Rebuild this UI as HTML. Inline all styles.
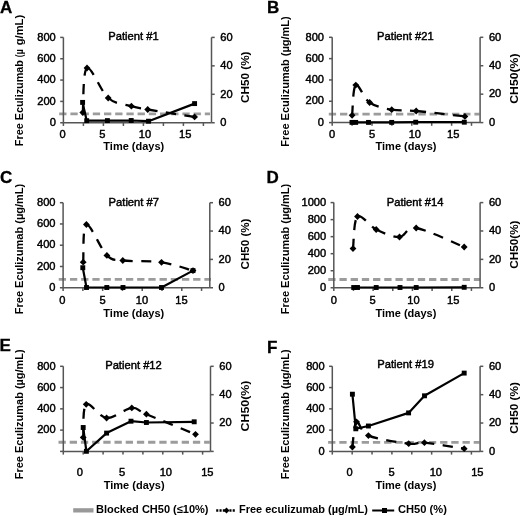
<!DOCTYPE html>
<html><head><meta charset="utf-8"><style>
html,body{margin:0;padding:0;background:#fff;}
svg{display:block;font-family:"Liberation Sans", sans-serif;will-change:transform;}
</style></head><body>
<svg width="520" height="516" viewBox="0 0 520 516">
<rect width="520" height="516" fill="#fff"/>
<text x="0" y="12.5" text-anchor="start" font-size="17" font-weight="bold" fill="#000" stroke="#000" stroke-width="0.3">A</text>
<text x="108.3" y="39.5" text-anchor="start" font-size="11.2" font-weight="normal" fill="#000" stroke="#000" stroke-width="0.45">Patient #1</text>
<text transform="translate(23.4,146.2) rotate(-90)" text-anchor="start" font-size="11" font-weight="bold" fill="#000" textLength="86.2" lengthAdjust="spacingAndGlyphs">Free Eculizumab</text>
<text transform="translate(23.4,57.2) rotate(-90)" text-anchor="start" font-size="11" font-weight="bold" fill="#000" textLength="7.8" lengthAdjust="spacingAndGlyphs">(µ</text>
<text transform="translate(23.4,45.2) rotate(-90)" text-anchor="start" font-size="11" font-weight="bold" fill="#000" textLength="30.3" lengthAdjust="spacingAndGlyphs">g/mL)</text>
<text transform="translate(248.8,77.25) rotate(-90)" text-anchor="middle" font-size="11" font-weight="bold" fill="#000" textLength="51.5" lengthAdjust="spacingAndGlyphs">CH50 (%)</text>
<text x="133.8" y="150.3" text-anchor="middle" font-size="11" font-weight="bold" fill="#000">Time (days)</text>
<path d="M59.2,113.8 H210" stroke="#9c9c9c" stroke-width="2.8" stroke-dasharray="7.3,3.9" fill="none"/>
<g stroke="#555555" stroke-width="1.5" fill="none">
<path d="M63.4,37.4 V122.75"/>
<path d="M211.5,37.4 V122.75"/>
<path d="M63.4,122.75 H211.5"/>
<path d="M60.2,37.4 H63.4"/>
<path d="M60.2,58.74 H63.4"/>
<path d="M60.2,80.07 H63.4"/>
<path d="M60.2,101.41 H63.4"/>
<path d="M60.2,122.75 H63.4"/>
<path d="M211.5,37.4 H214.7"/>
<path d="M211.5,65.85 H214.7"/>
<path d="M211.5,94.3 H214.7"/>
<path d="M211.5,122.75 H214.7"/>
<path d="M63.4,122.75 V125.95"/>
<path d="M83.4,122.75 V125.95"/>
<path d="M103.4,122.75 V125.95"/>
<path d="M123.4,122.75 V125.95"/>
<path d="M143.4,122.75 V125.95"/>
<path d="M163.4,122.75 V125.95"/>
<path d="M183.4,122.75 V125.95"/>
<path d="M203.4,122.75 V125.95"/>
</g>
<text x="55.8" y="40.6" text-anchor="end" font-size="11.1" font-weight="normal" fill="#000" stroke="#000" stroke-width="0.45">800</text>
<text x="55.8" y="61.94" text-anchor="end" font-size="11.1" font-weight="normal" fill="#000" stroke="#000" stroke-width="0.45">600</text>
<text x="55.8" y="83.27" text-anchor="end" font-size="11.1" font-weight="normal" fill="#000" stroke="#000" stroke-width="0.45">400</text>
<text x="55.8" y="104.61" text-anchor="end" font-size="11.1" font-weight="normal" fill="#000" stroke="#000" stroke-width="0.45">200</text>
<text x="55.8" y="125.95" text-anchor="end" font-size="11.1" font-weight="normal" fill="#000" stroke="#000" stroke-width="0.45">0</text>
<text x="220.3" y="40.6" text-anchor="start" font-size="11.1" font-weight="normal" fill="#000" stroke="#000" stroke-width="0.45">60</text>
<text x="220.3" y="69.05" text-anchor="start" font-size="11.1" font-weight="normal" fill="#000" stroke="#000" stroke-width="0.45">40</text>
<text x="220.3" y="97.5" text-anchor="start" font-size="11.1" font-weight="normal" fill="#000" stroke="#000" stroke-width="0.45">20</text>
<text x="220.3" y="125.95" text-anchor="start" font-size="11.1" font-weight="normal" fill="#000" stroke="#000" stroke-width="0.45">0</text>
<text x="62.6" y="137.8" text-anchor="middle" font-size="11.1" font-weight="normal" fill="#000" stroke="#000" stroke-width="0.45">0</text>
<text x="102.4" y="137.8" text-anchor="middle" font-size="11.1" font-weight="normal" fill="#000" stroke="#000" stroke-width="0.45">5</text>
<text x="145" y="137.8" text-anchor="middle" font-size="11.1" font-weight="normal" fill="#000" stroke="#000" stroke-width="0.45">10</text>
<text x="185.2" y="137.8" text-anchor="middle" font-size="11.1" font-weight="normal" fill="#000" stroke="#000" stroke-width="0.45">15</text>
<path d="M82.8,112.6 C83.5,105.17 82.77,70.43 87,68" stroke="#000" stroke-width="2.3" stroke-dasharray="10,8.5" fill="none"/>
<path d="M87,68 C91.23,65.57 100.8,91.63 108.2,98" stroke="#000" stroke-width="2.3" stroke-dasharray="10,8.5" fill="none"/>
<path d="M108.2,98 C115.6,104.37 124.82,104.28 131.4,106.2" stroke="#000" stroke-width="2.3" stroke-dasharray="10,8.5" fill="none"/>
<path d="M131.4,106.2 C137.98,108.12 137.17,107.72 147.7,109.5" stroke="#000" stroke-width="2.3" stroke-dasharray="10,8.5" fill="none"/>
<path d="M147.7,109.5 C158.23,111.28 186.78,115.67 194.6,116.9" stroke="#000" stroke-width="2.3" stroke-dasharray="10,8.5" fill="none"/>
<path d="M82.6,102.4 L86.7,120.7 L107.4,120.6 L131.2,120.5 L148.5,121.2 L194.6,103.6" stroke="#000" stroke-width="2.2" fill="none" stroke-linejoin="round"/>
<path d="M82.8,109.2 L86.2,112.6 L82.8,116 L79.4,112.6 Z" fill="#000"/>
<path d="M87,64.6 L90.4,68 L87,71.4 L83.6,68 Z" fill="#000"/>
<path d="M108.2,94.6 L111.6,98 L108.2,101.4 L104.8,98 Z" fill="#000"/>
<path d="M131.4,102.8 L134.8,106.2 L131.4,109.6 L128,106.2 Z" fill="#000"/>
<path d="M147.7,106.1 L151.1,109.5 L147.7,112.9 L144.3,109.5 Z" fill="#000"/>
<path d="M194.6,113.5 L198,116.9 L194.6,120.3 L191.2,116.9 Z" fill="#000"/>
<rect x="80.15" y="99.95" width="4.9" height="4.9" fill="#000"/>
<rect x="84.25" y="118.25" width="4.9" height="4.9" fill="#000"/>
<rect x="104.95" y="118.15" width="4.9" height="4.9" fill="#000"/>
<rect x="128.75" y="118.05" width="4.9" height="4.9" fill="#000"/>
<rect x="146.05" y="118.75" width="4.9" height="4.9" fill="#000"/>
<rect x="192.15" y="101.15" width="4.9" height="4.9" fill="#000"/>
<text x="266.9" y="12.5" text-anchor="start" font-size="17" font-weight="bold" fill="#000" stroke="#000" stroke-width="0.3">B</text>
<text x="377.1" y="40" text-anchor="start" font-size="11.2" font-weight="normal" fill="#000" stroke="#000" stroke-width="0.45">Patient #21</text>
<text transform="translate(288.8,81.5) rotate(-90)" text-anchor="middle" font-size="11" font-weight="bold" fill="#000" textLength="130.5" lengthAdjust="spacingAndGlyphs">Free Eculizumab (µg/mL)</text>
<text transform="translate(517.6,78.6) rotate(-90)" text-anchor="middle" font-size="11" font-weight="bold" fill="#000" textLength="50.2" lengthAdjust="spacingAndGlyphs">CH50(%)</text>
<text x="406" y="150" text-anchor="middle" font-size="11" font-weight="bold" fill="#000">Time (days)</text>
<path d="M328.8,114.2 H479.5" stroke="#9c9c9c" stroke-width="2.8" stroke-dasharray="7.3,3.9" fill="none"/>
<g stroke="#555555" stroke-width="1.5" fill="none">
<path d="M332.2,37.3 V122.6"/>
<path d="M480.1,37.3 V122.6"/>
<path d="M332.2,122.6 H480.1"/>
<path d="M329,37.3 H332.2"/>
<path d="M329,58.62 H332.2"/>
<path d="M329,79.95 H332.2"/>
<path d="M329,101.27 H332.2"/>
<path d="M329,122.6 H332.2"/>
<path d="M480.1,37.3 H483.3"/>
<path d="M480.1,65.73 H483.3"/>
<path d="M480.1,94.17 H483.3"/>
<path d="M480.1,122.6 H483.3"/>
<path d="M332.2,122.6 V125.8"/>
<path d="M352.1,122.6 V125.8"/>
<path d="M372,122.6 V125.8"/>
<path d="M391.9,122.6 V125.8"/>
<path d="M411.8,122.6 V125.8"/>
<path d="M431.7,122.6 V125.8"/>
<path d="M451.6,122.6 V125.8"/>
<path d="M471.5,122.6 V125.8"/>
</g>
<text x="324" y="40.5" text-anchor="end" font-size="11.1" font-weight="normal" fill="#000" stroke="#000" stroke-width="0.45">800</text>
<text x="324" y="61.83" text-anchor="end" font-size="11.1" font-weight="normal" fill="#000" stroke="#000" stroke-width="0.45">600</text>
<text x="324" y="83.15" text-anchor="end" font-size="11.1" font-weight="normal" fill="#000" stroke="#000" stroke-width="0.45">400</text>
<text x="324" y="104.47" text-anchor="end" font-size="11.1" font-weight="normal" fill="#000" stroke="#000" stroke-width="0.45">200</text>
<text x="324" y="125.8" text-anchor="end" font-size="11.1" font-weight="normal" fill="#000" stroke="#000" stroke-width="0.45">0</text>
<text x="488.9" y="40.5" text-anchor="start" font-size="11.1" font-weight="normal" fill="#000" stroke="#000" stroke-width="0.45">60</text>
<text x="488.9" y="68.93" text-anchor="start" font-size="11.1" font-weight="normal" fill="#000" stroke="#000" stroke-width="0.45">40</text>
<text x="488.9" y="97.37" text-anchor="start" font-size="11.1" font-weight="normal" fill="#000" stroke="#000" stroke-width="0.45">20</text>
<text x="488.9" y="125.8" text-anchor="start" font-size="11.1" font-weight="normal" fill="#000" stroke="#000" stroke-width="0.45">0</text>
<text x="332.1" y="137.8" text-anchor="middle" font-size="11.1" font-weight="normal" fill="#000" stroke="#000" stroke-width="0.45">0</text>
<text x="372.1" y="137.8" text-anchor="middle" font-size="11.1" font-weight="normal" fill="#000" stroke="#000" stroke-width="0.45">5</text>
<text x="414.8" y="137.8" text-anchor="middle" font-size="11.1" font-weight="normal" fill="#000" stroke="#000" stroke-width="0.45">10</text>
<text x="453.2" y="137.8" text-anchor="middle" font-size="11.1" font-weight="normal" fill="#000" stroke="#000" stroke-width="0.45">15</text>
<path d="M352.1,115.3 C352.72,110.27 352.88,87.23 355.8,85.1" stroke="#000" stroke-width="2.3" stroke-dasharray="10,8.5" fill="none"/>
<path d="M355.8,85.1 C358.72,82.97 363.62,98.4 369.6,102.5" stroke="#000" stroke-width="2.3" stroke-dasharray="10,8.5" fill="none"/>
<path d="M369.6,102.5 C375.58,106.6 383.93,108.28 391.7,109.7" stroke="#000" stroke-width="2.3" stroke-dasharray="10,8.5" fill="none"/>
<path d="M391.7,109.7 C399.47,111.12 404,109.88 416.2,111" stroke="#000" stroke-width="2.3" stroke-dasharray="10,8.5" fill="none"/>
<path d="M416.2,111 C428.4,112.12 456.78,115.5 464.9,116.4" stroke="#000" stroke-width="2.3" stroke-dasharray="10,8.5" fill="none"/>
<path d="M352,122.4 L355.7,122.4 L368.5,122.4 L391.7,122.4 L415.7,122.2 L464.3,122.2" stroke="#000" stroke-width="2.2" fill="none" stroke-linejoin="round"/>
<path d="M352.1,111.9 L355.5,115.3 L352.1,118.7 L348.7,115.3 Z" fill="#000"/>
<path d="M355.8,81.7 L359.2,85.1 L355.8,88.5 L352.4,85.1 Z" fill="#000"/>
<path d="M369.6,99.1 L373,102.5 L369.6,105.9 L366.2,102.5 Z" fill="#000"/>
<path d="M391.7,106.3 L395.1,109.7 L391.7,113.1 L388.3,109.7 Z" fill="#000"/>
<path d="M416.2,107.6 L419.6,111 L416.2,114.4 L412.8,111 Z" fill="#000"/>
<path d="M464.9,113 L468.3,116.4 L464.9,119.8 L461.5,116.4 Z" fill="#000"/>
<rect x="349.55" y="119.95" width="4.9" height="4.9" fill="#000"/>
<rect x="353.25" y="119.95" width="4.9" height="4.9" fill="#000"/>
<rect x="366.05" y="119.95" width="4.9" height="4.9" fill="#000"/>
<rect x="389.25" y="119.95" width="4.9" height="4.9" fill="#000"/>
<rect x="413.25" y="119.75" width="4.9" height="4.9" fill="#000"/>
<rect x="461.85" y="119.75" width="4.9" height="4.9" fill="#000"/>
<text x="0" y="182.5" text-anchor="start" font-size="17" font-weight="bold" fill="#000" stroke="#000" stroke-width="0.3">C</text>
<text x="108.6" y="205.9" text-anchor="start" font-size="11.2" font-weight="normal" fill="#000" stroke="#000" stroke-width="0.45">Patient #7</text>
<text transform="translate(23.4,249) rotate(-90)" text-anchor="middle" font-size="11" font-weight="bold" fill="#000" textLength="130.5" lengthAdjust="spacingAndGlyphs">Free Eculizumab (µg/mL)</text>
<text transform="translate(248.8,244) rotate(-90)" text-anchor="middle" font-size="11" font-weight="bold" fill="#000" textLength="50.9" lengthAdjust="spacingAndGlyphs">CH50 (%)</text>
<text x="133.8" y="317" text-anchor="middle" font-size="11" font-weight="bold" fill="#000">Time (days)</text>
<path d="M58.75,279.4 H211" stroke="#9c9c9c" stroke-width="2.8" stroke-dasharray="7.3,3.9" fill="none"/>
<g stroke="#555555" stroke-width="1.5" fill="none">
<path d="M63.1,202.7 V287.75"/>
<path d="M209.8,202.7 V287.75"/>
<path d="M63.1,287.75 H209.8"/>
<path d="M59.9,202.7 H63.1"/>
<path d="M59.9,223.96 H63.1"/>
<path d="M59.9,245.22 H63.1"/>
<path d="M59.9,266.49 H63.1"/>
<path d="M59.9,287.75 H63.1"/>
<path d="M209.8,202.7 H213"/>
<path d="M209.8,231.05 H213"/>
<path d="M209.8,259.4 H213"/>
<path d="M209.8,287.75 H213"/>
<path d="M63.1,287.75 V290.95"/>
<path d="M82.88,287.75 V290.95"/>
<path d="M102.66,287.75 V290.95"/>
<path d="M122.44,287.75 V290.95"/>
<path d="M142.22,287.75 V290.95"/>
<path d="M162,287.75 V290.95"/>
<path d="M181.78,287.75 V290.95"/>
<path d="M201.56,287.75 V290.95"/>
</g>
<text x="55.5" y="205.9" text-anchor="end" font-size="11.1" font-weight="normal" fill="#000" stroke="#000" stroke-width="0.45">800</text>
<text x="55.5" y="227.16" text-anchor="end" font-size="11.1" font-weight="normal" fill="#000" stroke="#000" stroke-width="0.45">600</text>
<text x="55.5" y="248.42" text-anchor="end" font-size="11.1" font-weight="normal" fill="#000" stroke="#000" stroke-width="0.45">400</text>
<text x="55.5" y="269.69" text-anchor="end" font-size="11.1" font-weight="normal" fill="#000" stroke="#000" stroke-width="0.45">200</text>
<text x="55.5" y="290.95" text-anchor="end" font-size="11.1" font-weight="normal" fill="#000" stroke="#000" stroke-width="0.45">0</text>
<text x="218.6" y="205.9" text-anchor="start" font-size="11.1" font-weight="normal" fill="#000" stroke="#000" stroke-width="0.45">60</text>
<text x="218.6" y="234.25" text-anchor="start" font-size="11.1" font-weight="normal" fill="#000" stroke="#000" stroke-width="0.45">40</text>
<text x="218.6" y="262.6" text-anchor="start" font-size="11.1" font-weight="normal" fill="#000" stroke="#000" stroke-width="0.45">20</text>
<text x="218.6" y="290.95" text-anchor="start" font-size="11.1" font-weight="normal" fill="#000" stroke="#000" stroke-width="0.45">0</text>
<text x="62.4" y="303.8" text-anchor="middle" font-size="11.1" font-weight="normal" fill="#000" stroke="#000" stroke-width="0.45">0</text>
<text x="102.7" y="303.8" text-anchor="middle" font-size="11.1" font-weight="normal" fill="#000" stroke="#000" stroke-width="0.45">5</text>
<text x="142" y="303.8" text-anchor="middle" font-size="11.1" font-weight="normal" fill="#000" stroke="#000" stroke-width="0.45">10</text>
<text x="181.4" y="303.8" text-anchor="middle" font-size="11.1" font-weight="normal" fill="#000" stroke="#000" stroke-width="0.45">15</text>
<path d="M83.2,262.2 C83.73,255.92 82.45,225.63 86.4,224.5" stroke="#000" stroke-width="2.3" stroke-dasharray="10,8.5" fill="none"/>
<path d="M86.4,224.5 C90.35,223.37 100.83,249.4 106.9,255.4" stroke="#000" stroke-width="2.3" stroke-dasharray="10,8.5" fill="none"/>
<path d="M106.9,255.4 C112.97,261.4 113.7,259.35 122.8,260.5" stroke="#000" stroke-width="2.3" stroke-dasharray="10,8.5" fill="none"/>
<path d="M122.8,260.5 C131.9,261.65 149.8,260.62 161.5,262.3" stroke="#000" stroke-width="2.3" stroke-dasharray="10,8.5" fill="none"/>
<path d="M161.5,262.3 C173.2,263.98 187.75,269.22 193,270.6" stroke="#000" stroke-width="2.3" stroke-dasharray="10,8.5" fill="none"/>
<path d="M82.8,267.7 L86.5,287.5 L106.8,287.5 L123,287.5 L161.5,287.5 L193,270.6" stroke="#000" stroke-width="2.2" fill="none" stroke-linejoin="round"/>
<path d="M83.2,258.8 L86.6,262.2 L83.2,265.6 L79.8,262.2 Z" fill="#000"/>
<path d="M86.4,221.1 L89.8,224.5 L86.4,227.9 L83,224.5 Z" fill="#000"/>
<path d="M106.9,252 L110.3,255.4 L106.9,258.8 L103.5,255.4 Z" fill="#000"/>
<path d="M122.8,257.1 L126.2,260.5 L122.8,263.9 L119.4,260.5 Z" fill="#000"/>
<path d="M161.5,258.9 L164.9,262.3 L161.5,265.7 L158.1,262.3 Z" fill="#000"/>
<path d="M193,267.2 L196.4,270.6 L193,274 L189.6,270.6 Z" fill="#000"/>
<rect x="80.35" y="265.25" width="4.9" height="4.9" fill="#000"/>
<rect x="84.05" y="285.05" width="4.9" height="4.9" fill="#000"/>
<rect x="104.35" y="285.05" width="4.9" height="4.9" fill="#000"/>
<rect x="120.55" y="285.05" width="4.9" height="4.9" fill="#000"/>
<rect x="159.05" y="285.05" width="4.9" height="4.9" fill="#000"/>
<rect x="190.55" y="268.15" width="4.9" height="4.9" fill="#000"/>
<text x="266.5" y="182.5" text-anchor="start" font-size="17" font-weight="bold" fill="#000" stroke="#000" stroke-width="0.3">D</text>
<text x="386.8" y="205.5" text-anchor="start" font-size="11.2" font-weight="normal" fill="#000" stroke="#000" stroke-width="0.45">Patient #14</text>
<text transform="translate(288.8,249) rotate(-90)" text-anchor="middle" font-size="11" font-weight="bold" fill="#000" textLength="130.5" lengthAdjust="spacingAndGlyphs">Free Eculizumab (µg/mL)</text>
<text transform="translate(517.6,244.6) rotate(-90)" text-anchor="middle" font-size="11" font-weight="bold" fill="#000" textLength="48.2" lengthAdjust="spacingAndGlyphs">CH50(%)</text>
<text x="405.9" y="317" text-anchor="middle" font-size="11" font-weight="bold" fill="#000">Time (days)</text>
<path d="M328.25,279.5 H480" stroke="#9c9c9c" stroke-width="2.8" stroke-dasharray="7.3,3.9" fill="none"/>
<g stroke="#555555" stroke-width="1.5" fill="none">
<path d="M333.8,202.6 V287.75"/>
<path d="M480.1,202.6 V287.75"/>
<path d="M333.8,287.75 H480.1"/>
<path d="M330.6,202.6 H333.8"/>
<path d="M330.6,219.63 H333.8"/>
<path d="M330.6,236.66 H333.8"/>
<path d="M330.6,253.69 H333.8"/>
<path d="M330.6,270.72 H333.8"/>
<path d="M330.6,287.75 H333.8"/>
<path d="M480.1,202.6 H483.3"/>
<path d="M480.1,230.98 H483.3"/>
<path d="M480.1,259.37 H483.3"/>
<path d="M480.1,287.75 H483.3"/>
<path d="M333.8,287.75 V290.95"/>
<path d="M353.46,287.75 V290.95"/>
<path d="M373.12,287.75 V290.95"/>
<path d="M392.78,287.75 V290.95"/>
<path d="M412.44,287.75 V290.95"/>
<path d="M432.1,287.75 V290.95"/>
<path d="M451.76,287.75 V290.95"/>
<path d="M471.42,287.75 V290.95"/>
</g>
<text x="326.2" y="205.8" text-anchor="end" font-size="11.1" font-weight="normal" fill="#000" stroke="#000" stroke-width="0.45">1000</text>
<text x="326.2" y="222.83" text-anchor="end" font-size="11.1" font-weight="normal" fill="#000" stroke="#000" stroke-width="0.45">800</text>
<text x="326.2" y="239.86" text-anchor="end" font-size="11.1" font-weight="normal" fill="#000" stroke="#000" stroke-width="0.45">600</text>
<text x="326.2" y="256.89" text-anchor="end" font-size="11.1" font-weight="normal" fill="#000" stroke="#000" stroke-width="0.45">400</text>
<text x="326.2" y="273.92" text-anchor="end" font-size="11.1" font-weight="normal" fill="#000" stroke="#000" stroke-width="0.45">200</text>
<text x="326.2" y="290.95" text-anchor="end" font-size="11.1" font-weight="normal" fill="#000" stroke="#000" stroke-width="0.45">0</text>
<text x="488.9" y="205.8" text-anchor="start" font-size="11.1" font-weight="normal" fill="#000" stroke="#000" stroke-width="0.45">60</text>
<text x="488.9" y="234.18" text-anchor="start" font-size="11.1" font-weight="normal" fill="#000" stroke="#000" stroke-width="0.45">40</text>
<text x="488.9" y="262.57" text-anchor="start" font-size="11.1" font-weight="normal" fill="#000" stroke="#000" stroke-width="0.45">20</text>
<text x="488.9" y="290.95" text-anchor="start" font-size="11.1" font-weight="normal" fill="#000" stroke="#000" stroke-width="0.45">0</text>
<text x="333.9" y="303.8" text-anchor="middle" font-size="11.1" font-weight="normal" fill="#000" stroke="#000" stroke-width="0.45">0</text>
<text x="372.7" y="303.8" text-anchor="middle" font-size="11.1" font-weight="normal" fill="#000" stroke="#000" stroke-width="0.45">5</text>
<text x="413.5" y="303.8" text-anchor="middle" font-size="11.1" font-weight="normal" fill="#000" stroke="#000" stroke-width="0.45">10</text>
<text x="453.2" y="303.8" text-anchor="middle" font-size="11.1" font-weight="normal" fill="#000" stroke="#000" stroke-width="0.45">15</text>
<path d="M353,248.6 C353.75,243.25 353.63,219.68 357.5,216.5" stroke="#000" stroke-width="2.3" stroke-dasharray="10,8.5" fill="none"/>
<path d="M357.5,216.5 C361.37,213.32 369.2,226.08 376.2,229.5" stroke="#000" stroke-width="2.3" stroke-dasharray="10,8.5" fill="none"/>
<path d="M376.2,229.5 C383.2,232.92 392.83,237.25 399.5,237" stroke="#000" stroke-width="2.3" stroke-dasharray="10,8.5" fill="none"/>
<path d="M399.5,237 C406.17,236.75 405.42,226.33 416.2,228" stroke="#000" stroke-width="2.3" stroke-dasharray="10,8.5" fill="none"/>
<path d="M416.2,228 C426.98,229.67 456.2,243.83 464.2,247" stroke="#000" stroke-width="2.3" stroke-dasharray="10,8.5" fill="none"/>
<path d="M353.7,287.5 L357.5,287.5 L376.2,287.5 L400,287.5 L416.2,287.5 L464.2,287.3" stroke="#000" stroke-width="2.2" fill="none" stroke-linejoin="round"/>
<path d="M353,245.2 L356.4,248.6 L353,252 L349.6,248.6 Z" fill="#000"/>
<path d="M357.5,213.1 L360.9,216.5 L357.5,219.9 L354.1,216.5 Z" fill="#000"/>
<path d="M376.2,226.1 L379.6,229.5 L376.2,232.9 L372.8,229.5 Z" fill="#000"/>
<path d="M399.5,233.6 L402.9,237 L399.5,240.4 L396.1,237 Z" fill="#000"/>
<path d="M416.2,224.6 L419.6,228 L416.2,231.4 L412.8,228 Z" fill="#000"/>
<path d="M464.2,243.6 L467.6,247 L464.2,250.4 L460.8,247 Z" fill="#000"/>
<rect x="351.25" y="285.05" width="4.9" height="4.9" fill="#000"/>
<rect x="355.05" y="285.05" width="4.9" height="4.9" fill="#000"/>
<rect x="373.75" y="285.05" width="4.9" height="4.9" fill="#000"/>
<rect x="397.55" y="285.05" width="4.9" height="4.9" fill="#000"/>
<rect x="413.75" y="285.05" width="4.9" height="4.9" fill="#000"/>
<rect x="461.75" y="284.85" width="4.9" height="4.9" fill="#000"/>
<text x="-0.6" y="350.5" text-anchor="start" font-size="17" font-weight="bold" fill="#000" stroke="#000" stroke-width="0.3">E</text>
<text x="105.2" y="368.9" text-anchor="start" font-size="11.2" font-weight="normal" fill="#000" stroke="#000" stroke-width="0.45">Patient #12</text>
<text transform="translate(23.4,414.3) rotate(-90)" text-anchor="middle" font-size="11" font-weight="bold" fill="#000" textLength="130" lengthAdjust="spacingAndGlyphs">Free Eculizumab (µg/mL)</text>
<text transform="translate(248.8,406) rotate(-90)" text-anchor="middle" font-size="11" font-weight="bold" fill="#000" textLength="50.9" lengthAdjust="spacingAndGlyphs">CH50(%)</text>
<text x="134.2" y="488.9" text-anchor="middle" font-size="11" font-weight="bold" fill="#000">Time (days)</text>
<path d="M58.5,442.25 H209.75" stroke="#9c9c9c" stroke-width="2.8" stroke-dasharray="7.3,3.9" fill="none"/>
<g stroke="#555555" stroke-width="1.5" fill="none">
<path d="M63.3,366.3 V451.4"/>
<path d="M210.5,366.3 V451.4"/>
<path d="M63.3,451.4 H210.5"/>
<path d="M60.1,366.3 H63.3"/>
<path d="M60.1,387.57 H63.3"/>
<path d="M60.1,408.85 H63.3"/>
<path d="M60.1,430.12 H63.3"/>
<path d="M60.1,451.4 H63.3"/>
<path d="M210.5,366.3 H213.7"/>
<path d="M210.5,394.67 H213.7"/>
<path d="M210.5,423.03 H213.7"/>
<path d="M210.5,451.4 H213.7"/>
<path d="M63.3,451.4 V454.6"/>
<path d="M83.2,451.4 V454.6"/>
<path d="M103.1,451.4 V454.6"/>
<path d="M123,451.4 V454.6"/>
<path d="M142.9,451.4 V454.6"/>
<path d="M162.8,451.4 V454.6"/>
<path d="M182.7,451.4 V454.6"/>
<path d="M202.6,451.4 V454.6"/>
</g>
<text x="55.7" y="369.5" text-anchor="end" font-size="11.1" font-weight="normal" fill="#000" stroke="#000" stroke-width="0.45">800</text>
<text x="55.7" y="390.77" text-anchor="end" font-size="11.1" font-weight="normal" fill="#000" stroke="#000" stroke-width="0.45">600</text>
<text x="55.7" y="412.05" text-anchor="end" font-size="11.1" font-weight="normal" fill="#000" stroke="#000" stroke-width="0.45">400</text>
<text x="55.7" y="433.32" text-anchor="end" font-size="11.1" font-weight="normal" fill="#000" stroke="#000" stroke-width="0.45">200</text>
<text x="219.3" y="369.5" text-anchor="start" font-size="11.1" font-weight="normal" fill="#000" stroke="#000" stroke-width="0.45">60</text>
<text x="219.3" y="397.87" text-anchor="start" font-size="11.1" font-weight="normal" fill="#000" stroke="#000" stroke-width="0.45">40</text>
<text x="219.3" y="426.23" text-anchor="start" font-size="11.1" font-weight="normal" fill="#000" stroke="#000" stroke-width="0.45">20</text>
<text x="79.9" y="476" text-anchor="middle" font-size="11.1" font-weight="normal" fill="#000" stroke="#000" stroke-width="0.45">0</text>
<text x="122" y="476" text-anchor="middle" font-size="11.1" font-weight="normal" fill="#000" stroke="#000" stroke-width="0.45">5</text>
<text x="165.8" y="476" text-anchor="middle" font-size="11.1" font-weight="normal" fill="#000" stroke="#000" stroke-width="0.45">10</text>
<text x="207.3" y="476" text-anchor="middle" font-size="11.1" font-weight="normal" fill="#000" stroke="#000" stroke-width="0.45">15</text>
<path d="M83.2,437.4 C83.7,431.88 82.3,407.53 86.2,404.3" stroke="#000" stroke-width="2.3" stroke-dasharray="10,8.5" fill="none"/>
<path d="M86.2,404.3 C90.1,401.07 99,417.4 106.6,418" stroke="#000" stroke-width="2.3" stroke-dasharray="10,8.5" fill="none"/>
<path d="M106.6,418 C114.2,418.6 125.17,408.53 131.8,407.9" stroke="#000" stroke-width="2.3" stroke-dasharray="10,8.5" fill="none"/>
<path d="M131.8,407.9 C138.43,407.27 135.78,409.8 146.4,414.2" stroke="#000" stroke-width="2.3" stroke-dasharray="10,8.5" fill="none"/>
<path d="M146.4,414.2 C157.02,418.6 187.32,430.95 195.5,434.3" stroke="#000" stroke-width="2.3" stroke-dasharray="10,8.5" fill="none"/>
<path d="M83.2,427.5 L86.4,451.3 L106.6,433.1 L131,421.2 L146.4,422.5 L194.2,421.8" stroke="#000" stroke-width="2.2" fill="none" stroke-linejoin="round"/>
<path d="M83.2,434 L86.6,437.4 L83.2,440.8 L79.8,437.4 Z" fill="#000"/>
<path d="M86.2,400.9 L89.6,404.3 L86.2,407.7 L82.8,404.3 Z" fill="#000"/>
<path d="M106.6,414.6 L110,418 L106.6,421.4 L103.2,418 Z" fill="#000"/>
<path d="M131.8,404.5 L135.2,407.9 L131.8,411.3 L128.4,407.9 Z" fill="#000"/>
<path d="M146.4,410.8 L149.8,414.2 L146.4,417.6 L143,414.2 Z" fill="#000"/>
<path d="M195.5,430.9 L198.9,434.3 L195.5,437.7 L192.1,434.3 Z" fill="#000"/>
<rect x="80.75" y="425.05" width="4.9" height="4.9" fill="#000"/>
<rect x="83.95" y="448.85" width="4.9" height="4.9" fill="#000"/>
<rect x="104.15" y="430.65" width="4.9" height="4.9" fill="#000"/>
<rect x="128.55" y="418.75" width="4.9" height="4.9" fill="#000"/>
<rect x="143.95" y="420.05" width="4.9" height="4.9" fill="#000"/>
<rect x="191.75" y="419.35" width="4.9" height="4.9" fill="#000"/>
<text x="266.9" y="353" text-anchor="start" font-size="17" font-weight="bold" fill="#000" stroke="#000" stroke-width="0.3">F</text>
<text x="377.3" y="368.2" text-anchor="start" font-size="11.2" font-weight="normal" fill="#000" stroke="#000" stroke-width="0.45">Patient #19</text>
<text transform="translate(288.8,414.3) rotate(-90)" text-anchor="middle" font-size="11" font-weight="bold" fill="#000" textLength="130" lengthAdjust="spacingAndGlyphs">Free Eculizumab (µg/mL)</text>
<text transform="translate(517.6,407.9) rotate(-90)" text-anchor="middle" font-size="11" font-weight="bold" fill="#000" textLength="51.6" lengthAdjust="spacingAndGlyphs">CH50 (%)</text>
<text x="405.9" y="488.9" text-anchor="middle" font-size="11" font-weight="bold" fill="#000">Time (days)</text>
<path d="M328.1,442.4 H479.5" stroke="#9c9c9c" stroke-width="2.8" stroke-dasharray="7.3,3.9" fill="none"/>
<g stroke="#555555" stroke-width="1.5" fill="none">
<path d="M332.3,366.3 V451.4"/>
<path d="M480.1,366.3 V451.4"/>
<path d="M332.3,451.4 H480.1"/>
<path d="M329.1,366.3 H332.3"/>
<path d="M329.1,387.57 H332.3"/>
<path d="M329.1,408.85 H332.3"/>
<path d="M329.1,430.12 H332.3"/>
<path d="M329.1,451.4 H332.3"/>
<path d="M480.1,366.3 H483.3"/>
<path d="M480.1,394.67 H483.3"/>
<path d="M480.1,423.03 H483.3"/>
<path d="M480.1,451.4 H483.3"/>
<path d="M332.3,451.4 V454.6"/>
<path d="M352.17,451.4 V454.6"/>
<path d="M372.04,451.4 V454.6"/>
<path d="M391.91,451.4 V454.6"/>
<path d="M411.78,451.4 V454.6"/>
<path d="M431.65,451.4 V454.6"/>
<path d="M451.52,451.4 V454.6"/>
<path d="M471.39,451.4 V454.6"/>
</g>
<text x="324.7" y="369.5" text-anchor="end" font-size="11.1" font-weight="normal" fill="#000" stroke="#000" stroke-width="0.45">800</text>
<text x="324.7" y="390.77" text-anchor="end" font-size="11.1" font-weight="normal" fill="#000" stroke="#000" stroke-width="0.45">600</text>
<text x="324.7" y="412.05" text-anchor="end" font-size="11.1" font-weight="normal" fill="#000" stroke="#000" stroke-width="0.45">400</text>
<text x="324.7" y="433.32" text-anchor="end" font-size="11.1" font-weight="normal" fill="#000" stroke="#000" stroke-width="0.45">200</text>
<text x="324.7" y="454.6" text-anchor="end" font-size="11.1" font-weight="normal" fill="#000" stroke="#000" stroke-width="0.45">0</text>
<text x="488.9" y="369.5" text-anchor="start" font-size="11.1" font-weight="normal" fill="#000" stroke="#000" stroke-width="0.45">60</text>
<text x="488.9" y="397.87" text-anchor="start" font-size="11.1" font-weight="normal" fill="#000" stroke="#000" stroke-width="0.45">40</text>
<text x="488.9" y="426.23" text-anchor="start" font-size="11.1" font-weight="normal" fill="#000" stroke="#000" stroke-width="0.45">20</text>
<text x="488.9" y="454.6" text-anchor="start" font-size="11.1" font-weight="normal" fill="#000" stroke="#000" stroke-width="0.45">0</text>
<text x="349.5" y="476" text-anchor="middle" font-size="11.1" font-weight="normal" fill="#000" stroke="#000" stroke-width="0.45">0</text>
<text x="391.7" y="476" text-anchor="middle" font-size="11.1" font-weight="normal" fill="#000" stroke="#000" stroke-width="0.45">5</text>
<text x="435.8" y="476" text-anchor="middle" font-size="11.1" font-weight="normal" fill="#000" stroke="#000" stroke-width="0.45">10</text>
<text x="477.3" y="476" text-anchor="middle" font-size="11.1" font-weight="normal" fill="#000" stroke="#000" stroke-width="0.45">15</text>
<path d="M352.4,447 C353.08,442.8 353.83,423.7 356.5,421.8" stroke="#000" stroke-width="2.3" stroke-dasharray="10,8.5" fill="none"/>
<path d="M356.5,421.8 C359.17,419.9 359.7,431.95 368.4,435.6" stroke="#000" stroke-width="2.3" stroke-dasharray="10,8.5" fill="none"/>
<path d="M368.4,435.6 C377.1,439.25 399.37,442.52 408.7,443.7" stroke="#000" stroke-width="2.3" stroke-dasharray="10,8.5" fill="none"/>
<path d="M408.7,443.7 C418.03,444.88 415.15,441.87 424.4,442.7" stroke="#000" stroke-width="2.3" stroke-dasharray="10,8.5" fill="none"/>
<path d="M424.4,442.7 C433.65,443.53 457.57,447.7 464.2,448.7" stroke="#000" stroke-width="2.3" stroke-dasharray="10,8.5" fill="none"/>
<path d="M352.4,394.2 L355.8,428.8 L368.4,426 L408.6,412.9 L424.5,395.8 L464.2,373.1" stroke="#000" stroke-width="2.2" fill="none" stroke-linejoin="round"/>
<path d="M352.4,443.6 L355.8,447 L352.4,450.4 L349,447 Z" fill="#000"/>
<path d="M356.5,418.4 L359.9,421.8 L356.5,425.2 L353.1,421.8 Z" fill="#000"/>
<path d="M368.4,432.2 L371.8,435.6 L368.4,439 L365,435.6 Z" fill="#000"/>
<path d="M408.7,440.3 L412.1,443.7 L408.7,447.1 L405.3,443.7 Z" fill="#000"/>
<path d="M424.4,439.3 L427.8,442.7 L424.4,446.1 L421,442.7 Z" fill="#000"/>
<path d="M464.2,445.3 L467.6,448.7 L464.2,452.1 L460.8,448.7 Z" fill="#000"/>
<rect x="349.95" y="391.75" width="4.9" height="4.9" fill="#000"/>
<rect x="353.35" y="426.35" width="4.9" height="4.9" fill="#000"/>
<rect x="365.95" y="423.55" width="4.9" height="4.9" fill="#000"/>
<rect x="406.15" y="410.45" width="4.9" height="4.9" fill="#000"/>
<rect x="422.05" y="393.35" width="4.9" height="4.9" fill="#000"/>
<rect x="461.75" y="370.65" width="4.9" height="4.9" fill="#000"/>
<rect x="73.2" y="508.2" width="20.3" height="4.3" fill="#999"/>
<text x="96" y="513.4" text-anchor="start" font-size="11" font-weight="bold" fill="#000" textLength="112.5" lengthAdjust="spacingAndGlyphs">Blocked CH50 (≤10%)</text>
<path d="M216.2,510.5 H235.8" stroke="#000" stroke-width="2.4" stroke-dasharray="2.1,1.2" fill="none"/>
<path d="M226.5,507.5 L229.4,510.5 L226.5,513.5 L223.6,510.5 Z" fill="#000"/>
<text x="239" y="513.4" text-anchor="start" font-size="11" font-weight="bold" fill="#000" textLength="129" lengthAdjust="spacingAndGlyphs">Free eculizumab (µg/mL)</text>
<path d="M372.2,510.5 H394.2" stroke="#000" stroke-width="2" fill="none"/>
<rect x="382" y="508" width="5" height="5" fill="#000"/>
<text x="398" y="513.4" text-anchor="start" font-size="11" font-weight="bold" fill="#000" textLength="48.9" lengthAdjust="spacingAndGlyphs">CH50 (%)</text>
</svg>
</body></html>
